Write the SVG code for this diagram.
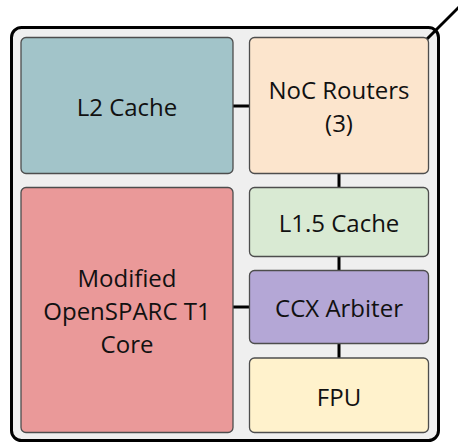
<svg xmlns="http://www.w3.org/2000/svg" width="458" height="443" viewBox="0 0 458 443">
<style>
.box{stroke:#4d4d4d;stroke-width:1.3}
.t{font-family:"Open Sans","Liberation Sans",sans-serif;font-size:24px;fill:#111;text-anchor:middle}
.c{stroke:#000;stroke-width:3;fill:none}
</style>
<rect width="458" height="443" fill="#fff"/>
<rect id="chip" x="11.5" y="27.5" width="427" height="413" rx="10" fill="#efefef" stroke="#000" stroke-width="3"/>
<g id="connectors">
<line class="c" x1="233" y1="106" x2="249" y2="106"/>
<line class="c" x1="339" y1="174" x2="339" y2="187"/>
<line class="c" x1="339" y1="257" x2="339" y2="271"/>
<line class="c" x1="339" y1="344" x2="339" y2="358"/>
<line class="c" x1="233" y1="307" x2="249" y2="307"/>
<line class="c" x1="427" y1="39" x2="460" y2="6"/>
</g>
<g id="l2">
<rect class="box" x="21" y="37.5" width="212" height="136" rx="5" fill="#a2c4c9"/>
<text class="t" x="127" y="116">L2 Cache</text>
</g>
<g id="noc">
<rect class="box" x="249.5" y="37.5" width="179" height="136" rx="5" fill="#fce5cd"/>
<text class="t" x="339" y="99">NoC Routers</text>
<text class="t" x="339" y="132">(3)</text>
</g>
<g id="core">
<rect class="box" x="21" y="187.5" width="212" height="245" rx="5" fill="#ea9999"/>
<text class="t" x="127" y="287">Modified</text>
<text class="t" x="127" y="320">OpenSPARC T1</text>
<text class="t" x="127" y="353">Core</text>
</g>
<g id="l15">
<rect class="box" x="249.5" y="187.5" width="179" height="69" rx="5" fill="#d9ead3"/>
<text class="t" x="339" y="232">L1.5 Cache</text>
</g>
<g id="ccx">
<rect class="box" x="249.5" y="270.5" width="179" height="73" rx="5" fill="#b4a7d6"/>
<text class="t" x="339" y="317">CCX Arbiter</text>
</g>
<g id="fpu">
<rect class="box" x="249.5" y="358" width="179" height="74.5" rx="5" fill="#fff2cc"/>
<text class="t" x="339" y="406">FPU</text>
</g>
</svg>
